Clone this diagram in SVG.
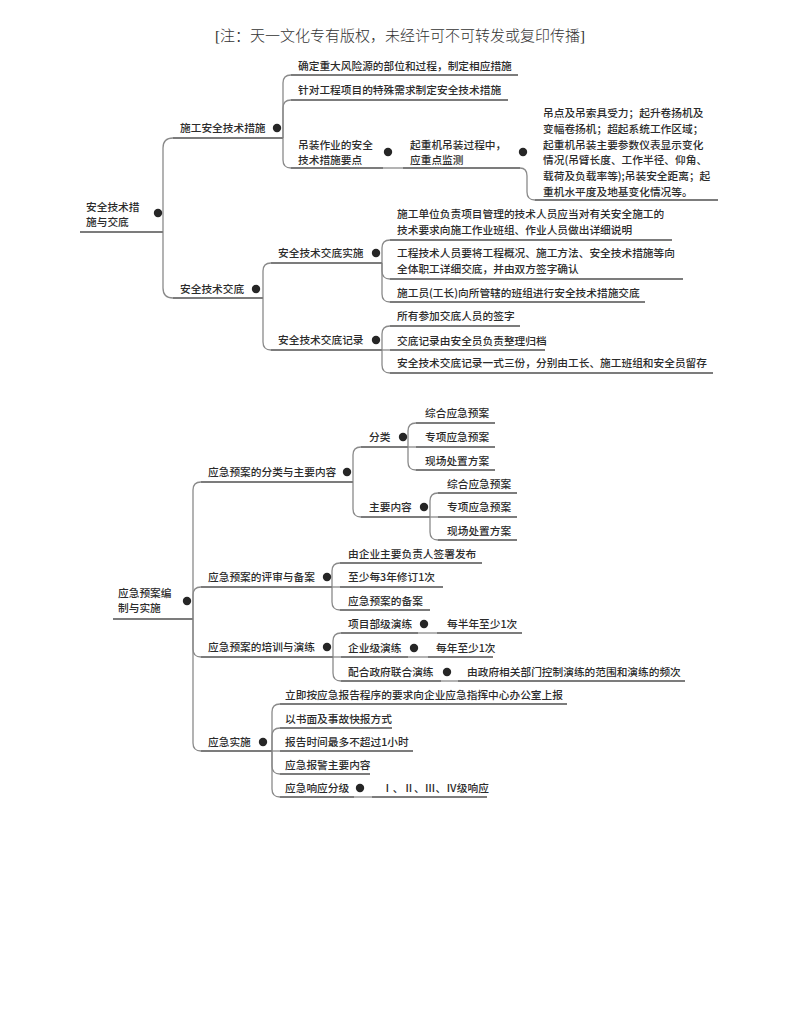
<svg xmlns="http://www.w3.org/2000/svg" width="800" height="1035" viewBox="0 0 800 1035">
<style>
.t{font-family:"Noto Sans CJK SC","Noto Sans",sans-serif;font-size:10.7px;font-weight:500;fill:#2b2b2b}
.h{font-family:"Liberation Serif","Noto Sans CJK SC",serif;font-size:15px;font-weight:300;fill:#333}
.u{stroke:#7c7c7c;stroke-width:1.8;fill:none}
.c{stroke:#8a8a8a;stroke-width:1.3;fill:none}
.d{fill:#262626}
</style>
<rect width="800" height="1035" fill="#fff"/>
<text class="h" x="400" y="41" text-anchor="middle">[注：天一文化专有版权，未经许可不可转发或复印传播]</text>

<g id="connectors">
<path class="c" d="M163 232 L163 148 Q163 138 173 138"/>
<path class="c" d="M163 232 L163 288 Q163 298 173 298"/>
<path class="c" d="M283 138 L283 83 Q283 75 291 75"/>
<path class="c" d="M283 138 L283 108 Q283 100 291 100"/>
<path class="c" d="M283 138 L283 160 Q283 168 291 168"/>
<path class="c" d="M383 168 L403 168"/>
<path class="c" d="M520 168 Q527 168 527 176 L527 192 Q527 200 535 200"/>
<path class="c" d="M263 298 L263 271 Q263 263 271 263"/>
<path class="c" d="M263 298 L263 342 Q263 350 271 350"/>
<path class="c" d="M382 263 L382 248 Q382 240 390 240"/>
<path class="c" d="M382 263 L382 271 Q382 279 390 279"/>
<path class="c" d="M382 263 L382 294 Q382 302 390 302"/>
<path class="c" d="M382 350 L382 334 Q382 326 390 326"/>
<path class="c" d="M382 350 L390 350"/>
<path class="c" d="M382 350 L382 365 Q382 373 390 373"/>
<path class="c" d="M193 619 L193 490 Q193 482 201 482"/>
<path class="c" d="M193 619 L193 595 Q193 587 201 587"/>
<path class="c" d="M193 619 L193 649 Q193 657 201 657"/>
<path class="c" d="M193 619 L193 743 Q193 751 201 751"/>
<path class="c" d="M353 482 L353 455 Q353 447 361 447"/>
<path class="c" d="M353 482 L353 509 Q353 517 361 517"/>
<path class="c" d="M408 447 L408 431 Q408 423 416 423"/>
<path class="c" d="M408 447 L416 447"/>
<path class="c" d="M408 447 L408 462 Q408 470 416 470"/>
<path class="c" d="M430 517 L430 501 Q430 493 438 493"/>
<path class="c" d="M430 517 L438 517"/>
<path class="c" d="M430 517 L430 532 Q430 540 438 540"/>
<path class="c" d="M332 587 L332 571 Q332 563 340 563"/>
<path class="c" d="M332 587 L340 587"/>
<path class="c" d="M332 587 L332 602 Q332 610 340 610"/>
<path class="c" d="M333 657 L333 641 Q333 633 341 633"/>
<path class="c" d="M333 657 L341 657"/>
<path class="c" d="M333 657 L333 673 Q333 681 341 681"/>
<path class="c" d="M418 633 L437 633"/>
<path class="c" d="M408 657 L428 657"/>
<path class="c" d="M441 681 L458 681"/>
<path class="c" d="M272 751 L272 712 Q272 704 280 704"/>
<path class="c" d="M272 751 L272 736 Q272 728 280 728"/>
<path class="c" d="M272 751 L280 751"/>
<path class="c" d="M272 751 L272 766 Q272 774 280 774"/>
<path class="c" d="M272 751 L272 789 Q272 797 280 797"/>
<path class="c" d="M354 797 L372 797"/>
</g>

<g id="n-root1"><text class="t" x="86" y="211">安全技术措</text><text class="t" x="86" y="226">施与交底</text><line class="u" x1="80" y1="232" x2="163" y2="232"/><circle class="d" cx="158" cy="213" r="4.2"/></g>
<g id="n-sgjs"><text class="t" x="180" y="132">施工安全技术措施</text><line class="u" x1="173" y1="138" x2="283" y2="138"/><circle class="d" cx="277" cy="128" r="4.2"/></g>
<g id="n-qd"><text class="t" x="298" y="70">确定重大风险源的部位和过程，制定相应措施</text><line class="u" x1="291" y1="75" x2="518" y2="75"/></g>
<g id="n-zd"><text class="t" x="298" y="94">针对工程项目的特殊需求制定安全技术措施</text><line class="u" x1="291" y1="100" x2="508" y2="100"/></g>
<g id="n-dz"><text class="t" x="298" y="149">吊装作业的安全</text><text class="t" x="298" y="164">技术措施要点</text><line class="u" x1="291" y1="168" x2="383" y2="168"/><circle class="d" cx="388" cy="152" r="4.2"/></g>
<g id="n-qzj"><text class="t" x="410" y="149">起重机吊装过程中，</text><text class="t" x="410" y="164">应重点监测</text><line class="u" x1="403" y1="168" x2="520" y2="168"/><circle class="d" cx="523" cy="152" r="4.2"/></g>
<g id="n-jc"><text class="t" x="543" y="117">吊点及吊索具受力；起升卷扬机及</text><text class="t" x="543" y="133">变幅卷扬机；超起系统工作区域；</text><text class="t" x="543" y="149">起重机吊装主要参数仪表显示变化</text><text class="t" x="543" y="164">情况(吊臂长度、工作半径、仰角、</text><text class="t" x="543" y="180">载荷及负载率等);吊装安全距离；起</text><text class="t" x="543" y="196">重机水平度及地基变化情况等。</text><line class="u" x1="535" y1="200" x2="718" y2="200"/></g>
<g id="n-jd"><text class="t" x="180" y="293">安全技术交底</text><line class="u" x1="173" y1="298" x2="263" y2="298"/><circle class="d" cx="256" cy="289" r="4.2"/></g>
<g id="n-jdss"><text class="t" x="278" y="257">安全技术交底实施</text><line class="u" x1="271" y1="263" x2="382" y2="263"/><circle class="d" cx="376" cy="253" r="4.2"/></g>
<g id="n-ss1"><text class="t" x="397" y="218">施工单位负责项目管理的技术人员应当对有关安全施工的</text><text class="t" x="397" y="234">技术要求向施工作业班组、作业人员做出详细说明</text><line class="u" x1="390" y1="240" x2="672" y2="240"/></g>
<g id="n-ss2"><text class="t" x="397" y="257">工程技术人员要将工程概况、施工方法、安全技术措施等向</text><text class="t" x="397" y="273">全体职工详细交底，并由双方签字确认</text><line class="u" x1="390" y1="279" x2="683" y2="279"/></g>
<g id="n-ss3"><text class="t" x="397" y="297">施工员(工长)向所管辖的班组进行安全技术措施交底</text><line class="u" x1="390" y1="302" x2="645" y2="302"/></g>
<g id="n-jdjl"><text class="t" x="278" y="344">安全技术交底记录</text><line class="u" x1="271" y1="350" x2="382" y2="350"/><circle class="d" cx="376" cy="340" r="4.2"/></g>
<g id="n-jl1"><text class="t" x="397" y="320">所有参加交底人员的签字</text><line class="u" x1="390" y1="326" x2="520" y2="326"/></g>
<g id="n-jl2"><text class="t" x="397" y="345">交底记录由安全员负责整理归档</text><line class="u" x1="390" y1="350" x2="545" y2="350"/></g>
<g id="n-jl3"><text class="t" x="397" y="367">安全技术交底记录一式三份，分别由工长、施工班组和安全员留存</text><line class="u" x1="390" y1="373" x2="713" y2="373"/></g>

<g id="n-root2"><text class="t" x="118" y="597">应急预案编</text><text class="t" x="118" y="612">制与实施</text><line class="u" x1="113" y1="619" x2="193" y2="619"/><circle class="d" cx="187" cy="601" r="4.2"/></g>
<g id="n-fl"><text class="t" x="208" y="476">应急预案的分类与主要内容</text><line class="u" x1="201" y1="482" x2="353" y2="482"/><circle class="d" cx="347" cy="472" r="4.2"/></g>
<g id="n-fenlei"><text class="t" x="369" y="441">分类</text><line class="u" x1="361" y1="447" x2="408" y2="447"/><circle class="d" cx="403" cy="437" r="4.2"/></g>
<g id="n-f1"><text class="t" x="425" y="417">综合应急预案</text><line class="u" x1="416" y1="423" x2="495" y2="423"/></g>
<g id="n-f2"><text class="t" x="425" y="441">专项应急预案</text><line class="u" x1="416" y1="447" x2="495" y2="447"/></g>
<g id="n-f3"><text class="t" x="425" y="465">现场处置方案</text><line class="u" x1="416" y1="470" x2="495" y2="470"/></g>
<g id="n-zynr"><text class="t" x="369" y="511">主要内容</text><line class="u" x1="361" y1="517" x2="430" y2="517"/><circle class="d" cx="424" cy="507" r="4.2"/></g>
<g id="n-z1"><text class="t" x="447" y="488">综合应急预案</text><line class="u" x1="438" y1="493" x2="517" y2="493"/></g>
<g id="n-z2"><text class="t" x="447" y="511">专项应急预案</text><line class="u" x1="438" y1="517" x2="517" y2="517"/></g>
<g id="n-z3"><text class="t" x="447" y="535">现场处置方案</text><line class="u" x1="438" y1="540" x2="517" y2="540"/></g>
<g id="n-ps"><text class="t" x="208" y="581">应急预案的评审与备案</text><line class="u" x1="201" y1="587" x2="332" y2="587"/><circle class="d" cx="327" cy="577" r="4.2"/></g>
<g id="n-p1"><text class="t" x="348" y="558">由企业主要负责人签署发布</text><line class="u" x1="340" y1="563" x2="482" y2="563"/></g>
<g id="n-p2"><text class="t" x="348" y="581">至少每3年修订1次</text><line class="u" x1="340" y1="587" x2="443" y2="587"/></g>
<g id="n-p3"><text class="t" x="348" y="605">应急预案的备案</text><line class="u" x1="340" y1="610" x2="430" y2="610"/></g>
<g id="n-px"><text class="t" x="208" y="651">应急预案的培训与演练</text><line class="u" x1="201" y1="657" x2="333" y2="657"/><circle class="d" cx="327" cy="647" r="4.2"/></g>
<g id="n-x1"><text class="t" x="348" y="628">项目部级演练</text><line class="u" x1="341" y1="633" x2="418" y2="633"/><circle class="d" cx="424" cy="624" r="4.2"/></g>
<g id="n-x1a"><text class="t" x="447" y="628">每半年至少1次</text><line class="u" x1="437" y1="633" x2="522" y2="633"/></g>
<g id="n-x2"><text class="t" x="348" y="652">企业级演练</text><line class="u" x1="341" y1="657" x2="408" y2="657"/><circle class="d" cx="414" cy="648" r="4.2"/></g>
<g id="n-x2a"><text class="t" x="436" y="652">每年至少1次</text><line class="u" x1="428" y1="657" x2="493" y2="657"/></g>
<g id="n-x3"><text class="t" x="348" y="676">配合政府联合演练</text><line class="u" x1="341" y1="681" x2="441" y2="681"/><circle class="d" cx="447" cy="672" r="4.2"/></g>
<g id="n-x3a"><text class="t" x="467" y="676">由政府相关部门控制演练的范围和演练的频次</text><line class="u" x1="458" y1="681" x2="685" y2="681"/></g>
<g id="n-ss"><text class="t" x="208" y="746">应急实施</text><line class="u" x1="201" y1="751" x2="272" y2="751"/><circle class="d" cx="263" cy="742" r="4.2"/></g>
<g id="n-s1"><text class="t" x="285" y="699">立即按应急报告程序的要求向企业应急指挥中心办公室上报</text><line class="u" x1="280" y1="704" x2="567" y2="704"/></g>
<g id="n-s2"><text class="t" x="285" y="723">以书面及事故快报方式</text><line class="u" x1="280" y1="728" x2="392" y2="728"/></g>
<g id="n-s3"><text class="t" x="285" y="746">报告时间最多不超过1小时</text><line class="u" x1="280" y1="751" x2="413" y2="751"/></g>
<g id="n-s4"><text class="t" x="285" y="769">应急报警主要内容</text><line class="u" x1="280" y1="774" x2="370" y2="774"/></g>
<g id="n-s5"><text class="t" x="285" y="792">应急响应分级</text><line class="u" x1="280" y1="797" x2="354" y2="797"/><circle class="d" cx="360" cy="788" r="4.2"/></g>
<g id="n-s5a"><text class="t" x="382" y="792">Ⅰ、Ⅱ、Ⅲ、Ⅳ级响应</text><line class="u" x1="372" y1="797" x2="487" y2="797"/></g>
</svg>
